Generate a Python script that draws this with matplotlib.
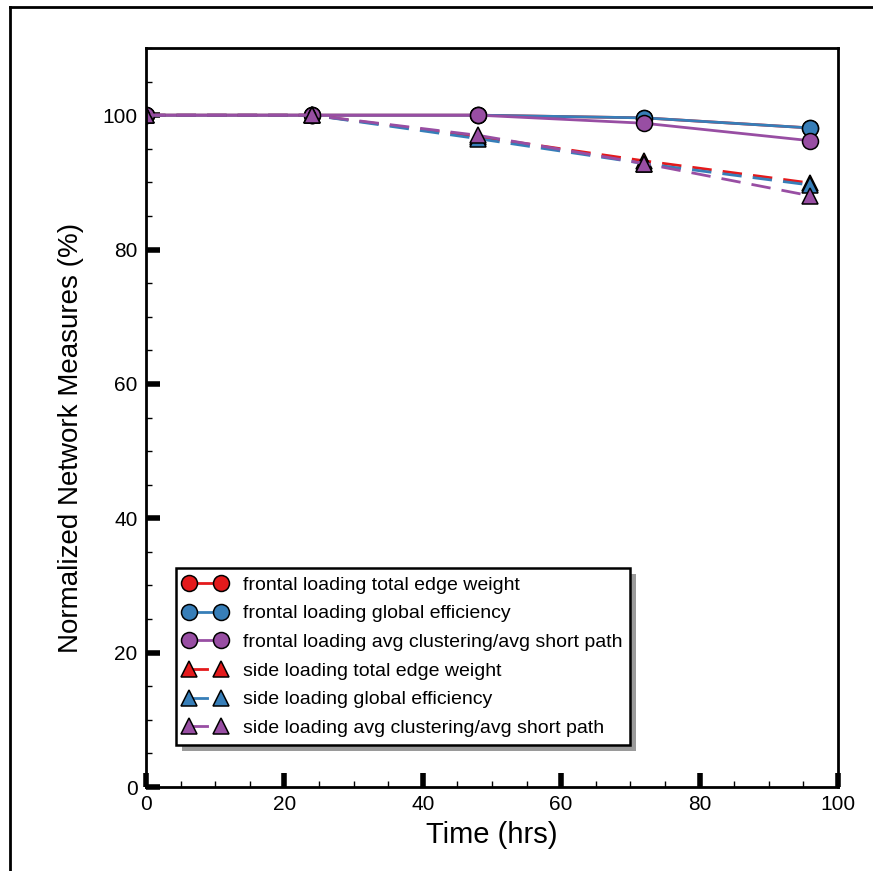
import numpy as np
import matplotlib.pyplot as plt
from matplotlib.lines import Line2D
from matplotlib.patches import Rectangle
from matplotlib.ticker import MultipleLocator

plt.rcParams['font.family'] = ['Liberation Sans', 'DejaVu Sans']

# data
hours = [0, 24, 48, 72, 96]

frontal_edge = [100, 100, 100, 99.6, 98.1]
frontal_eff = [100, 100, 100, 99.6, 98.1]
frontal_clust = [100, 100, 100, 98.8, 96.2]

side_edge = [100, 100, 96.8, 93.2, 89.9]
side_eff = [100, 100, 96.5, 92.8, 89.6]
side_clust = [100, 100, 97.0, 92.8, 88.0]

red = '#e41a1c'
blue = '#377eb8'
purple = '#984ea3'

fig = plt.figure(figsize=(8.73, 8.71), dpi=100)
ax = fig.add_axes([0.1672, 0.0964, 0.7927, 0.8485])

mk = dict(markersize=11.5, markeredgecolor='black', markeredgewidth=1.1)

ax.plot(hours, frontal_edge, '-o', color=red, lw=2, label='frontal loading total edge weight', **mk)
ax.plot(hours, frontal_eff, '-o', color=blue, lw=2, label='frontal loading global efficiency', **mk)
ax.plot(hours, frontal_clust, '-o', color=purple, lw=2,
        label='frontal loading avg clustering/avg short path', **mk)
ax.plot(hours, side_edge, '--^', color=red, lw=2, dashes=(7, 4), label='side loading total edge weight', **mk)
ax.plot(hours, side_eff, '--^', color=blue, lw=2, dashes=(7, 4), label='side loading global efficiency', **mk)
ax.plot(hours, side_clust, '--^', color=purple, lw=2, dashes=(7, 4),
        label='side loading avg clustering/avg short path', **mk)

ax.set_xlim(0, 100)
ax.set_ylim(0, 110)
ax.set_xticks([0, 20, 40, 60, 80, 100])
ax.set_yticks([0, 20, 40, 60, 80, 100])
ax.xaxis.set_minor_locator(MultipleLocator(5))
ax.yaxis.set_minor_locator(MultipleLocator(5))
ax.tick_params(which='major', direction='in', length=10, width=4, labelsize=15, pad=6)
ax.tick_params(which='minor', direction='in', length=4, width=1)
for s in ax.spines.values():
    s.set_linewidth(2)

ax.set_xlabel('Time (hrs)', fontsize=21, labelpad=5)
ax.set_ylabel('Normalized Network Measures (%)', fontsize=20)
ax.yaxis.set_label_coords(-0.09, 0.473)

leg = ax.legend(loc='lower left', bbox_to_anchor=(0.043, 0.057), borderaxespad=0,
                numpoints=2, fontsize=14, fancybox=False, framealpha=1,
                edgecolor='black', handlelength=2.25, handletextpad=0.8,
                labelspacing=0.57, borderpad=0.4)
leg.get_frame().set_linewidth(1.8)

# gray drop shadow behind the legend box
fig.canvas.draw()
bb = leg.get_window_extent()
inv = ax.transAxes.inverted()
(x0, y0), (x1, y1) = inv.transform([(bb.x0 + 6, bb.y0 - 6), (bb.x1 + 6, bb.y1 - 6)])
ax.add_patch(Rectangle((x0, y0), x1 - x0, y1 - y0, transform=ax.transAxes,
                       facecolor='#9a9a9a', edgecolor='none', zorder=4.5, clip_on=False))

# outer frame lines of the original panel
fig.add_artist(Line2D([0.0115, 0.0115], [0, 0.992], color='black', lw=2))
fig.add_artist(Line2D([0.0115, 1], [0.992, 0.992], color='black', lw=2))

fig.savefig('out.png', dpi=100)
